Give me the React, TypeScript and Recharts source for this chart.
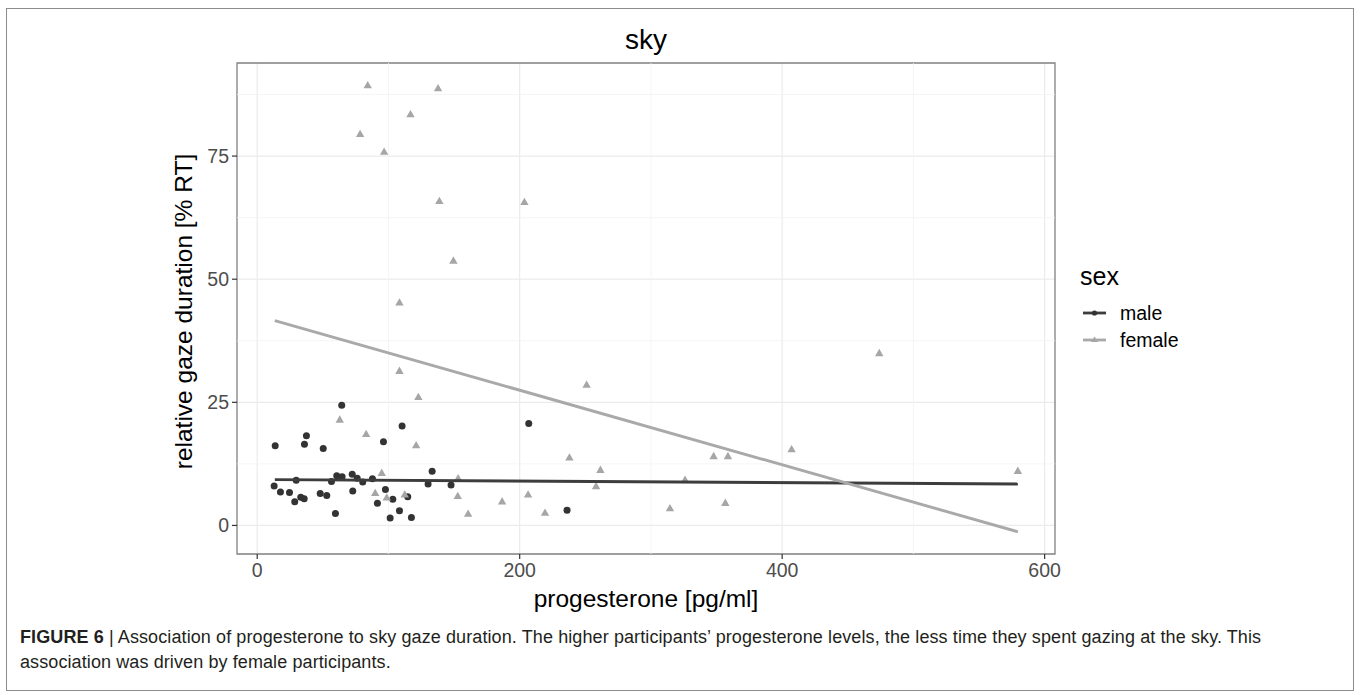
import React from "react";
import {
  ScatterChart,
  Scatter,
  XAxis,
  YAxis,
  CartesianGrid,
  ReferenceLine,
  ReferenceArea,
  Label,
} from "recharts";

// progesterone [pg/ml] vs relative gaze duration [% RT]
const maleX = [64.4, 110.4, 206.9, 37.5, 13.7, 36, 50.3, 96.2, 133.3, 12.9, 17.7, 24.6, 28.6, 33.2, 35.8, 29.7, 48, 53, 56.6, 60.6, 64.7, 59.6, 72.4, 76.2, 80.4, 72.8, 87.8, 97.7, 91.6, 103.3, 101.3, 108.4, 114.7, 117.5, 130.2, 147.7, 236.1];
const maleY = [24.4, 20.2, 20.7, 18.2, 16.2, 16.5, 15.6, 17.0, 11.0, 8.0, 6.8, 6.7, 4.8, 5.7, 5.4, 9.2, 6.5, 6.1, 8.9, 10.1, 9.9, 2.4, 10.4, 9.6, 8.8, 7.0, 9.5, 7.3, 4.5, 5.3, 1.5, 3.0, 5.8, 1.6, 8.4, 8.2, 3.1];

const femaleX = [84.2, 137.8, 116.8, 78.4, 96.7, 138.8, 203.6, 149.5, 108.4, 108.4, 122.8, 62.9, 251, 83, 121.1, 237.9, 261.5, 94.9, 153.1, 258.2, 89.9, 98.7, 112.4, 152.8, 160.7, 186.6, 206.4, 219.3, 474, 407.2, 347.8, 358.7, 326, 314.5, 356.7, 579.6];
const femaleY = [89.4, 88.8, 83.5, 79.5, 75.9, 65.9, 65.7, 53.8, 45.3, 31.4, 26.1, 21.5, 28.6, 18.6, 16.3, 13.8, 11.3, 10.7, 9.6, 8.0, 6.6, 5.7, 6.3, 6.0, 2.4, 4.9, 6.3, 2.6, 35.0, 15.5, 14.1, 14.1, 9.3, 3.5, 4.6, 11.1];

// linear fits (endpoints)
const fitX = [13.4, 579.6];
const maleFitY = [9.3, 8.4];
const femaleFitY = [41.6, -1.3];

const xTicks = [0, 200, 400, 600];
const yTicks = [0, 25, 50, 75];
const xMinor = [100, 300, 500];
const yMinor = [12.5, 37.5, 62.5, 87.5];
const xDomain = [-15.4, 607.9];
const yDomain = [-5.8, 93.9];

const legendTitle = "sex";
const legendLabels = ["male", "female"];

const maleData = maleX.map((x, i) => ({ x, y: maleY[i] }));
const femaleData = femaleX.map((x, i) => ({ x, y: femaleY[i] }));
const maleFit = fitX.map((x, i) => ({ x, y: maleFitY[i] }));
const femaleFit = fitX.map((x, i) => ({ x, y: femaleFitY[i] }));

const MALE_COL = "#333333";
const FEMALE_COL = "#a6a6a6";
const FONT = '"Liberation Sans", Arial, Helvetica, sans-serif';

const Dot = (p: any) => <circle cx={p.cx} cy={p.cy} r={3.5} fill={MALE_COL} />;
const Tri = (p: any) => {
  const s = 4.2;
  return (
    <polygon
      points={`${p.cx},${p.cy - s} ${p.cx - s},${p.cy + s * 0.75} ${p.cx + s},${p.cy + s * 0.75}`}
      fill={FEMALE_COL}
    />
  );
};
const None = () => <g />;

const LegendBox = () => (
  <svg width={160} height={110} style={{ fontFamily: FONT, display: "block" }}>
    <text x={10} y={25} fontSize={25} fill="#000">{legendTitle}</text>
    <line x1={13} x2={36} y1={53} y2={53} stroke="#3d3d3d" strokeWidth={2.8} />
    <circle cx={24.5} cy={53} r={2.6} fill={MALE_COL} />
    <text x={50} y={60} fontSize={19.5} fill="#000">{legendLabels[0]}</text>
    <line x1={13} x2={36} y1={80} y2={80} stroke="#a9a9a9" strokeWidth={2.8} />
    <polygon points="24.5,76.5 21,82 28,82" fill={FEMALE_COL} />
    <text x={50} y={87} fontSize={19.5} fill="#000">{legendLabels[1]}</text>
  </svg>
);

export default function App() {
  return (
    <div
      style={{
        position: "absolute",
        left: 0,
        top: 0,
        width: 1360,
        height: 698,
        background: "#fff",
        fontFamily: FONT,
      }}
    >
      <div
        style={{
          position: "absolute",
          left: 6,
          top: 8,
          width: 1348,
          height: 683,
          border: "1px solid #8c8c8c",
          boxSizing: "border-box",
        }}
      />
      <div style={{ position: "absolute", left: 0, top: 0 }}>
        <ScatterChart
          width={1360}
          height={640}
          margin={{ top: 63, right: 305, bottom: 26, left: 177 }}
          style={{ fontFamily: FONT }}
        >
          <CartesianGrid
            stroke="#ebebeb"
            strokeWidth={1.2}
            horizontalValues={yTicks}
            verticalValues={xTicks}
          />
          {xMinor.map((v) => (
            <ReferenceLine key={"xm" + v} x={v} stroke="#f2f2f2" strokeWidth={0.8} />
          ))}
          {yMinor.map((v) => (
            <ReferenceLine key={"ym" + v} y={v} stroke="#f2f2f2" strokeWidth={0.8} />
          ))}
          <XAxis
            type="number"
            dataKey="x"
            domain={xDomain}
            ticks={xTicks}
            allowDataOverflow
            height={60}
            axisLine={false}
            tickSize={5}
            tickMargin={4}
            tickLine={{ stroke: "#333333", strokeWidth: 1.2 }}
            tick={{ fontSize: 19.5, fill: "#4d4d4d", fontFamily: FONT }}
          >
            <Label
              content={(props: any) => {
                const vb = props.viewBox || {};
                return (
                  <text
                    x={vb.x + vb.width / 2}
                    y={607}
                    textAnchor="middle"
                    fontSize={24.5}
                    fill="#000"
                    fontFamily={FONT}
                  >
                    progesterone [pg/ml]
                  </text>
                );
              }}
            />
          </XAxis>
          <YAxis
            type="number"
            dataKey="y"
            domain={yDomain}
            ticks={yTicks}
            allowDataOverflow
            width={60}
            axisLine={false}
            tickSize={5}
            tickMargin={3}
            tickLine={{ stroke: "#333333", strokeWidth: 1.2 }}
            tick={{ fontSize: 19.5, fill: "#4d4d4d", fontFamily: FONT }}
          >
            <Label
              content={(props: any) => {
                const vb = props.viewBox || {};
                const cy = vb.y + vb.height / 2 + 3;
                return (
                  <text
                    x={192}
                    y={cy}
                    textAnchor="middle"
                    fontSize={24.5}
                    fill="#000"
                    fontFamily={FONT}
                    transform={`rotate(-90 192 ${cy})`}
                  >
                    relative gaze duration [% RT]
                  </text>
                );
              }}
            />
          </YAxis>
          <Scatter data={maleData} shape={Dot} isAnimationActive={false} name="male" />
          <Scatter data={femaleData} shape={Tri} isAnimationActive={false} name="female" />
          <Scatter
            data={maleFit}
            shape={None}
            line={{ stroke: "#3d3d3d", strokeWidth: 2.9 }}
            isAnimationActive={false}
            legendType="none"
          />
          <Scatter
            data={femaleFit}
            shape={None}
            line={{ stroke: "#a9a9a9", strokeWidth: 2.9 }}
            isAnimationActive={false}
            legendType="none"
          />
          <ReferenceArea
            x1={xDomain[0]}
            x2={xDomain[1]}
            y1={yDomain[0]}
            y2={yDomain[1]}
            fill="none"
            fillOpacity={0}
            stroke="#808080"
            strokeWidth={1.3}
          />
          <text x={646} y={49} textAnchor="middle" fontSize={28} fill="#000" fontFamily={FONT}>
            sky
          </text>
        </ScatterChart>
      </div>
      <div style={{ position: "absolute", left: 1070, top: 260 }}>
        <LegendBox />
      </div>
      <div
        style={{
          position: "absolute",
          left: 20,
          top: 625,
          width: 1320,
          fontFamily: FONT,
          fontSize: 18,
          letterSpacing: "0.1px",
          lineHeight: "25px",
          color: "#231f20",
          whiteSpace: "nowrap",
        }}
      >
        <b>FIGURE 6</b> | Association of progesterone to sky gaze duration. The higher participants’ progesterone levels, the less time they spent gazing at the sky. This
        <br />
        association was driven by female participants.
      </div>
    </div>
  );
}
